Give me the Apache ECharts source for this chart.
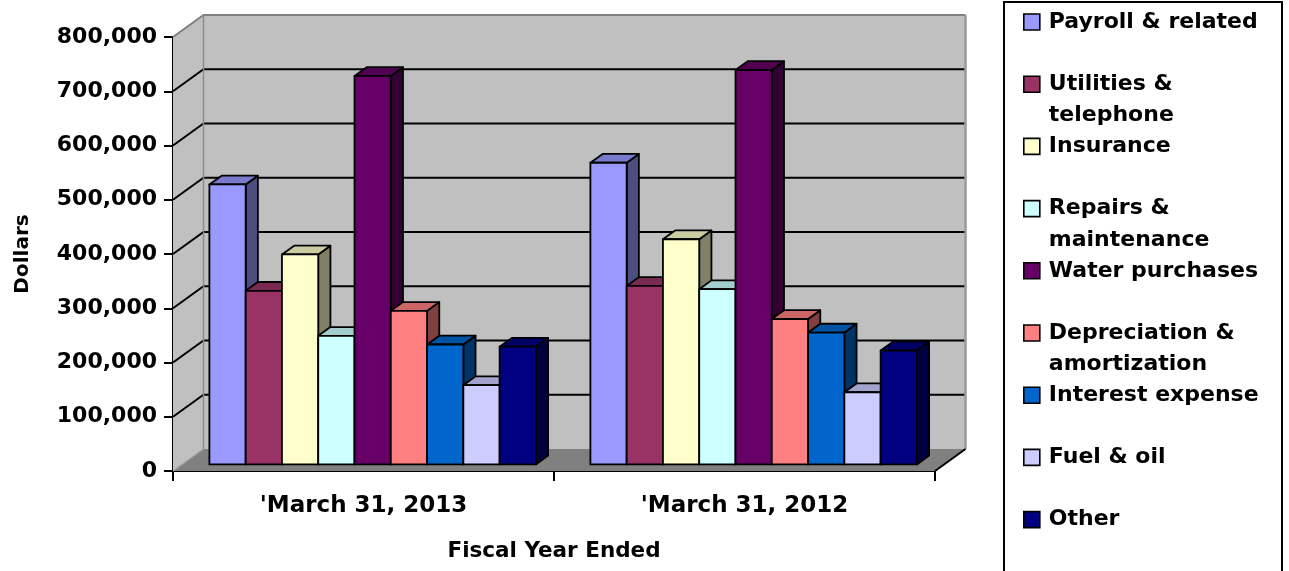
<!DOCTYPE html>
<html>
<head>
<meta charset="utf-8">
<script src="https://cdn.jsdelivr.net/npm/echarts@6/dist/echarts.min.js"></script>
<style>
  html, body { margin: 0; padding: 0; background: #ffffff; }
  #chart { width: 1289px; height: 571px; }
</style>
</head>
<body>
<div id="chart"></div>
<script>
// ---- data ----
const categories = ["'March 31, 2013", "'March 31, 2012"];
const seriesNames = [
  'Payroll & related', 'Utilities & telephone', 'Insurance',
  'Repairs & maintenance', 'Water purchases', 'Depreciation & amortization',
  'Interest expense', 'Fuel & oil', 'Other'
];
const legendLabels = [
  'Payroll & related', 'Utilities &\ntelephone', 'Insurance',
  'Repairs &\nmaintenance', 'Water purchases', 'Depreciation &\namortization',
  'Interest expense', 'Fuel & oil', 'Other'
];
const payroll      = [516000, 556000];
const utilities    = [320000, 329000];
const insurance    = [387000, 415000];
const repairs      = [237000, 323000];
const water        = [716000, 727000];
const depreciation = [283000, 268000];
const interest     = [221000, 243000];
const fuel         = [146000, 133000];
const other        = [217000, 210000];
const yTicks = [0, 100000, 200000, 300000, 400000, 500000, 600000, 700000, 800000];
const xAxisTitle = 'Fiscal Year Ended';
const yAxisTitle = 'Dollars';

const seriesValues = [payroll, utilities, insurance, repairs, water, depreciation, interest, fuel, other];

// ---- styling ----
const colors = ['#9999FF', '#993366', '#FFFFCC', '#CCFFFF', '#660066', '#FF8080', '#0066CC', '#CCCCFF', '#000080'];
const FONT = "'DejaVu Sans', sans-serif";
const WALL_DX = 30.5;      // depth of the plot box, projected
const WALL_DY = -22;
const BAR_FRONT = 0.3;     // bars occupy the middle of the depth
const BAR_BACK = 0.7;
const GROUP_FRAC = 0.857;  // share of a category band used by its bars
const LEGEND_LINE = 31.5;

function shade(hex, k) {
  const n = parseInt(hex.slice(1), 16);
  const r = Math.round(((n >> 16) & 255) * k);
  const g = Math.round(((n >> 8) & 255) * k);
  const b = Math.round((n & 255) * k);
  return 'rgb(' + r + ',' + g + ',' + b + ')';
}

// walls, floor and gridlines of the 3-D box
function renderWalls(params, api) {
  const band = api.size([1, 0])[0];
  const xl = api.coord([0, 0])[0] - band / 2;
  const xr = api.coord([categories.length - 1, 0])[0] + band / 2;
  const yb = api.coord([0, yTicks[0]])[1];
  const yt = api.coord([0, yTicks[yTicks.length - 1]])[1];
  const dx = WALL_DX, dy = WALL_DY;
  const children = [
    { type: 'polygon', shape: { points: [[xl, yb], [xl, yt], [xl + dx, yt + dy], [xl + dx, yb + dy]] },
      style: { fill: '#c0c0c0' } },
    { type: 'rect', shape: { x: xl + dx, y: yt + dy, width: xr - xl, height: yb - yt },
      style: { fill: '#c0c0c0' } },
    { type: 'polygon', shape: { points: [[xl, yb], [xr, yb], [xr + dx, yb + dy], [xl + dx, yb + dy]] },
      style: { fill: '#808080' } }
  ];
  yTicks.slice(1, -1).forEach(function (v) {
    const y = api.coord([0, v])[1];
    children.push({ type: 'polyline',
      shape: { points: [[xl, y], [xl + dx, y + dy], [xr + dx, y + dy]] },
      style: { stroke: '#000', lineWidth: 2, fill: null } });
  });
  children.push(
    { type: 'polyline', shape: { points: [[xl, yt], [xl + dx, yt + dy], [xr + dx, yt + dy]] },
      style: { stroke: '#808080', lineWidth: 2, fill: null } },
    { type: 'line', shape: { x1: xr + dx, y1: yt + dy, x2: xr + dx, y2: yb + dy },
      style: { stroke: '#9a9a9a', lineWidth: 2.5 } },
    { type: 'line', shape: { x1: xl + dx, y1: yt + dy, x2: xl + dx, y2: yb + dy },
      style: { stroke: '#8c8c8c', lineWidth: 1.5 } },
    { type: 'line', shape: { x1: xl, y1: yb, x2: xl + dx, y2: yb + dy },
      style: { stroke: '#a0a0a0', lineWidth: 1.5 } },
    { type: 'line', shape: { x1: xr, y1: yb, x2: xr + dx, y2: yb + dy },
      style: { stroke: '#000', lineWidth: 2 } }
  );
  return { type: 'group', children: children };
}

// one 3-D column: side face, top face, front face
function barRenderer(idx) {
  return function (params, api) {
    const cat = api.value(0);
    const val = api.value(1);
    const base = api.coord([cat, 0]);
    const top = api.coord([cat, val]);
    const band = api.size([1, 0])[0];
    const groupW = band * GROUP_FRAC;
    const barW = groupW / seriesNames.length;
    const fx = WALL_DX * BAR_FRONT, fy = WALL_DY * BAR_FRONT;
    const dx = WALL_DX * (BAR_BACK - BAR_FRONT), dy = WALL_DY * (BAR_BACK - BAR_FRONT);
    const x0 = base[0] - groupW / 2 + idx * barW + fx;
    const x1 = x0 + barW;
    const yb = base[1] + fy;
    const yt = top[1] + fy;
    const c = colors[idx];
    const edge = { stroke: '#000', lineWidth: 1.8, lineJoin: 'round' };
    return {
      type: 'group',
      children: [
        { type: 'polygon', shape: { points: [[x1, yt], [x1, yb], [x1 + dx, yb + dy], [x1 + dx, yt + dy]] },
          style: Object.assign({ fill: shade(c, 0.5) }, edge) },
        { type: 'polygon', shape: { points: [[x0, yt], [x1, yt], [x1 + dx, yt + dy], [x0 + dx, yt + dy]] },
          style: Object.assign({ fill: shade(c, 0.8) }, edge) },
        { type: 'rect', shape: { x: x0, y: yt, width: barW, height: yb - yt },
          style: Object.assign({ fill: c }, edge) }
      ]
    };
  };
}

const series = [{
  type: 'custom',
  name: 'box',
  data: [[0, 0]],
  encode: { x: 0, y: 1 },
  renderItem: renderWalls,
  clip: false,
  silent: true,
  z: 1
}].concat(seriesNames.map(function (name, i) {
  return {
    type: 'custom',
    name: name,
    data: seriesValues[i].map(function (v, k) { return [k, v]; }),
    encode: { x: 0, y: 1 },
    renderItem: barRenderer(i),
    itemStyle: { color: colors[i] },
    clip: false,
    silent: true,
    z: 3
  };
}));

const chart = echarts.init(document.getElementById('chart'), null, { renderer: 'canvas' });
chart.setOption({
  animation: false,
  backgroundColor: '#ffffff',
  grid: { left: 173, top: 37, width: 762, height: 434, containLabel: false, outerBoundsMode: 'none' },
  xAxis: {
    type: 'category',
    data: categories,
    boundaryGap: true,
    axisLine: { show: true, lineStyle: { color: '#000', width: 2 } },
    axisTick: { show: true, length: 10, lineStyle: { color: '#000', width: 2 } },
    axisLabel: { color: '#000', fontFamily: FONT, fontWeight: 'bold', fontSize: 23, margin: 24 },
    splitLine: { show: false },
    name: xAxisTitle,
    nameLocation: 'middle',
    nameGap: 69,
    nameTextStyle: { color: '#000', fontFamily: FONT, fontWeight: 'bold', fontSize: 21.5 }
  },
  yAxis: {
    type: 'value',
    min: yTicks[0],
    max: yTicks[yTicks.length - 1],
    interval: yTicks[1] - yTicks[0],
    axisLine: { show: true, lineStyle: { color: '#000', width: 2 } },
    axisTick: { show: true, length: 9, lineStyle: { color: '#000', width: 2 } },
    axisLabel: {
      color: '#000', fontFamily: FONT, fontWeight: 'bold', fontSize: 22, margin: 16,
      formatter: function (v) { return v.toLocaleString('en-US'); }
    },
    splitLine: { show: false },
    name: yAxisTitle,
    nameLocation: 'middle',
    nameRotate: 90,
    nameGap: 140,
    nameTextStyle: { color: '#000', fontFamily: FONT, fontWeight: 'bold', fontSize: 20 }
  },
  legend: {
    data: seriesNames,
    orient: 'vertical',
    left: 1023,
    top: 22 - 1.5 * LEGEND_LINE,
    height: 900,
    padding: 0,
    itemGap: -32.3,
    itemWidth: 24,
    itemHeight: 16,
    icon: 'path://M0,0h10v10h-10z',
    itemStyle: { borderColor: '#000', borderWidth: 1.6 },
    selectedMode: false,
    formatter: function (name) {
      const label = legendLabels[seriesNames.indexOf(name)];
      return '\n' + label + (label.indexOf('\n') >= 0 ? '' : '\n ');
    },
    textStyle: { color: '#000', fontFamily: FONT, fontWeight: 'bold', fontSize: 22, lineHeight: LEGEND_LINE }
  },
  graphic: [{
    type: 'rect',
    shape: { x: 1004, y: 2, width: 278, height: 600 },
    style: { fill: null, stroke: '#000', lineWidth: 2 },
    silent: true
  }],
  series: series
});
</script>
</body>
</html>
